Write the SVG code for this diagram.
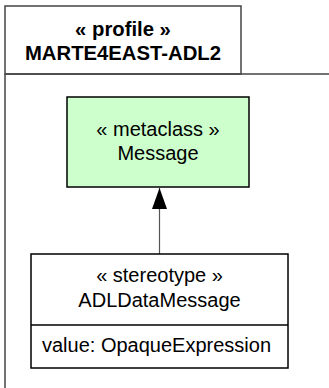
<svg xmlns="http://www.w3.org/2000/svg" width="329" height="388" viewBox="0 0 329 388">
<style>
  text { font-family: "Liberation Sans", Arial, sans-serif; font-size: 20px; fill: #000; }
  .b { font-weight: bold; font-size: 20.3px; }
  .c { text-anchor: middle; }
  .pkg { fill: #fff; stroke: #444; stroke-width: 1.5; }
  .box { stroke: #000; stroke-width: 1.5; }
  .edge { stroke: #555; stroke-width: 1.2; fill: none; }
</style>
<defs>
  <marker id="tri" markerWidth="21" markerHeight="15" refX="21" refY="7.5" orient="auto" markerUnits="userSpaceOnUse" viewBox="0 0 21 15">
    <path d="M0 0 L21 7.5 L0 15 Z" fill="#000"/>
  </marker>
</defs>
<rect width="329" height="388" fill="#fff"/>
<g id="profile">
  <rect class="pkg" x="5" y="6" width="236" height="68"/>
  <path class="pkg" d="M5 74 V390 M5 74 H331" fill="none"/>
  <text class="b c" x="123" y="35.5">« profile »</text>
  <text class="b c" x="123" y="60">MARTE4EAST-ADL2</text>
</g>
<g id="connectors">
  <path class="edge" d="M159.5 254 V188" marker-end="url(#tri)"/>
</g>
<g id="Message">
  <rect class="box" x="67" y="97" width="182" height="90" fill="#ccffcc"/>
  <text class="c" x="158" y="135.5">« metaclass »</text>
  <text class="c" x="158" y="160">Message</text>
</g>
<g id="ADLDataMessage">
  <rect class="box" x="31" y="254" width="257" height="114" fill="#fff"/>
  <line class="box" x1="31" y1="325" x2="288" y2="325"/>
  <text class="c" x="159.5" y="282">« stereotype »</text>
  <text class="c" x="159.5" y="306.5">ADLDataMessage</text>
  <text x="42" y="352">value: OpaqueExpression</text>
</g>
</svg>
